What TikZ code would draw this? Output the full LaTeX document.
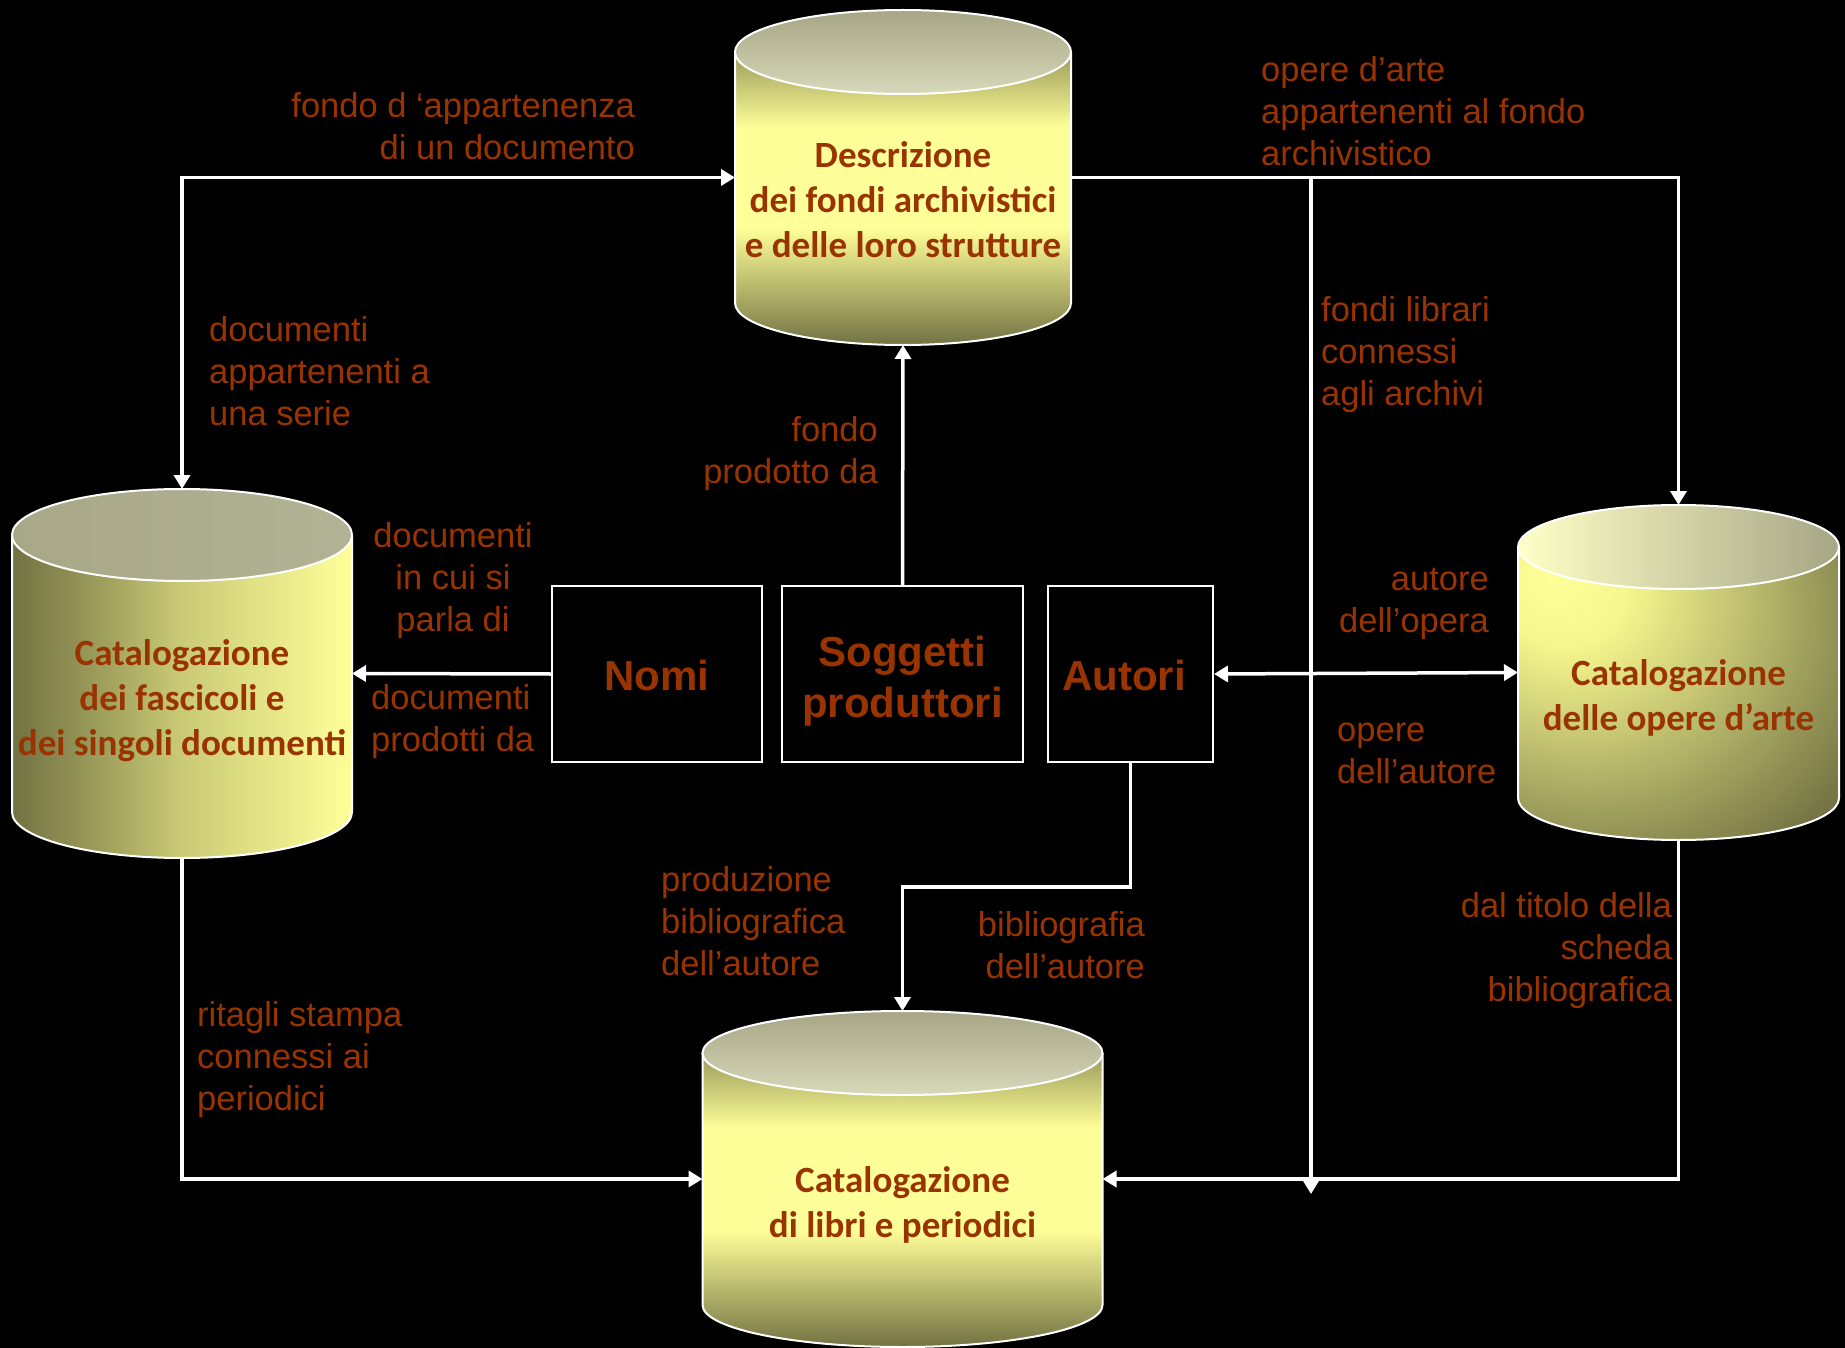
\documentclass[tikz,border=0pt]{standalone}
\usepackage{fontspec}
\setmainfont{Liberation Sans}
\newfontfamily\calib{Carlito}
\usetikzlibrary{arrows.meta}
\definecolor{tcol}{HTML}{993300}
\definecolor{cdark}{HTML}{727243}
\definecolor{cmid}{HTML}{9A9A5A}
\definecolor{clight}{HTML}{CACA76}
\definecolor{cyellow}{HTML}{FFFF99}
\definecolor{cyellowb}{HTML}{F6F68E}
\definecolor{capdark}{HTML}{A6A686}
\definecolor{caplight}{HTML}{D8D8BA}
\definecolor{capmidB}{HTML}{B2B294}
\definecolor{capmidA}{HTML}{A8A889}
\definecolor{capyl}{HTML}{FFFFC8}
\pgfdeclareverticalshading{cylv}{100bp}{color(0bp)=(cdark); color(25bp)=(cdark); color(45bp)=(cyellow); color(62bp)=(cyellow); color(75bp)=(cmid); color(100bp)=(cmid)}
\pgfdeclarehorizontalshading{cylh}{100bp}{color(0bp)=(cdark); color(25bp)=(cdark); color(37bp)=(cmid); color(50bp)=(clight); color(75bp)=(cyellow); color(100bp)=(cyellow)}
\pgfdeclareradialshading{cylr}{\pgfpoint{-20bp}{20bp}}{color(0bp)=(cyellow); color(10bp)=(cyellowb); color(22bp)=(clight); color(35bp)=(cmid); color(46bp)=(cdark); color(100bp)=(cdark)}
% #1 cx, #2 top ellipse centre y, #3 bottom ellipse centre y, #4 rx, #5 ry, #6 body fill, #7 cap fill
\newcommand{\drawcyl}[7]{%
  \path[#6] (#1-#4,#2) -- (#1-#4,#3) arc[start angle=180,end angle=360,x radius=#4pt,y radius=#5pt] -- (#1+#4,#2) -- cycle;
  \draw[white,line width=2pt] (#1-#4,#2) -- (#1-#4,#3) arc[start angle=180,end angle=360,x radius=#4pt,y radius=#5pt] -- (#1+#4,#2);
  \path[#7,draw=white,line width=2pt] (#1,#2) ellipse[x radius=#4pt,y radius=#5pt];
}
\begin{document}
\begin{tikzpicture}[x=1pt,y=-1pt,
  cylbox/.style={inner sep=0pt,outer sep=0pt,draw=none},
  cyltext/.style={font={\calib\bfseries\fontsize{37}{45}\selectfont},text=tcol,align=center,inner sep=0pt},
  boxnode/.style={draw=white,line width=2pt,inner sep=0pt,minimum height=176pt},
  boxtext/.style={text=tcol,align=center,inner sep=0pt,font={\bfseries\fontsize{42}{51}\selectfont}},
  lbl/.style={font={\fontsize{34.5}{42}\selectfont},text=tcol,inner sep=0pt},
  conn/.style={draw=white,line width=3.5pt},
  arr/.style={-{Triangle[length=14pt,width=16pt]}},
  darr/.style={{Triangle[length=14pt,width=16pt]}-{Triangle[length=14pt,width=16pt]}}]
\fill[black] (0,0) rectangle (1845,1348);
\useasboundingbox (0,0) rectangle (1845,1348);

% cylinders
\drawcyl{903}{52}{303}{168}{42}{shade,shading=cylv}{top color=capdark,bottom color=caplight}
\drawcyl{182}{535}{812}{170}{46}{shade,shading=cylh}{left color=capmidA,right color=capmidB}
\drawcyl{1678.5}{547}{798}{160.5}{42}{shade,shading=cylr}{left color=capyl,right color=capdark}
\drawcyl{902.5}{1053}{1305}{200}{42}{shade,shading=cylv}{top color=capdark,bottom color=caplight}

\node[cylbox,minimum width=336pt,minimum height=335pt] (A) at (903,177.5) {};
\node[cylbox,minimum width=340pt,minimum height=369pt] (B) at (182,673.5) {};
\node[cylbox,minimum width=321pt,minimum height=335pt] (C) at (1678.5,672.5) {};
\node[cylbox,minimum width=400pt,minimum height=336pt] (D) at (902.5,1179) {};

\node[cyltext] (At) at (903,200) {Descrizione\\dei fondi archivistici\\e delle loro strutture};
\node[cyltext] (Bt) at (182,701) {Catalogazione\\dei fascicoli e\\dei singoli documenti};
\node[cyltext] (Ct) at (1678.5,698) {Catalogazione\\delle opere d’arte};
\node[cyltext] (Dt) at (902.5,1205) {Catalogazione\\di libri e periodici};

% boxes
\node[boxnode,minimum width=210pt] (N) at (657,674) {};
\node[boxnode,minimum width=241pt] (S) at (902.5,674) {};
\node[boxnode,minimum width=165pt] (U) at (1130.5,674) {};
\node[boxtext] (Nt) at (657,675) {Nomi};
\node[boxtext] (St) at (902.5,681) {Soggetti\\produttori};
\node[boxtext] (Ut) at (1124,675) {Autori};

% connectors
\coordinate (vend) at (1311,1194);
\draw[conn,darr] (A.west) -| (B.north);
\draw[conn,arr] (A.east) -| (C.north);
\draw[conn,arr] (A.east -| vend) -- (vend);
\draw[conn,arr] (S.north) -- (A.south);
\draw[conn,arr] (N.west) -- (B.east);
\draw[conn,darr] (U.east) -- (C.west);
\draw[conn,arr] (U.south) -- ++(0,124) -| (D.north);
\draw[conn,arr] (B.south) |- (D.west);
\draw[conn,arr] (C.south) |- (D.east);

% labels
\node[lbl,anchor=east,align=right] (l1) at (635,126) {fondo d ‘appartenenza\\di un documento};
\node[lbl,anchor=west,align=left] (l2) at (1261,111) {opere d’arte\\appartenenti al fondo\\archivistico};
\node[lbl,anchor=west,align=left] (l3) at (209,371) {documenti\\appartenenti a\\una serie};
\node[lbl,anchor=west,align=left] (l4) at (1321,355) {fondi librari\\connessi\\agli archivi};
\node[lbl,anchor=east,align=right] (l5) at (878,453.5) {fondo\\prodotto da};
\node[lbl,align=center] (l6) at (453,581) {documenti\\in cui si\\parla di};
\node[lbl,anchor=west,align=left] (l7) at (371,722) {documenti\\prodotti da};
\node[lbl,anchor=east,align=right] (l8) at (1489,604) {autore\\dell’opera};
\node[lbl,anchor=west,align=left] (l9) at (1337,753) {opere\\dell’autore};
\node[lbl,anchor=west,align=left] (l10) at (661,921) {produzione\\bibliografica\\dell’autore};
\node[lbl,anchor=east,align=right] (l11) at (1145,945.5) {bibliografia\\dell’autore};
\node[lbl,anchor=east,align=right] (l12) at (1672,951) {dal titolo della\\scheda\\bibliografica};
\node[lbl,anchor=west,align=left] (l13) at (197,1060) {ritagli stampa\\connessi ai\\periodici};
\end{tikzpicture}
\end{document}
